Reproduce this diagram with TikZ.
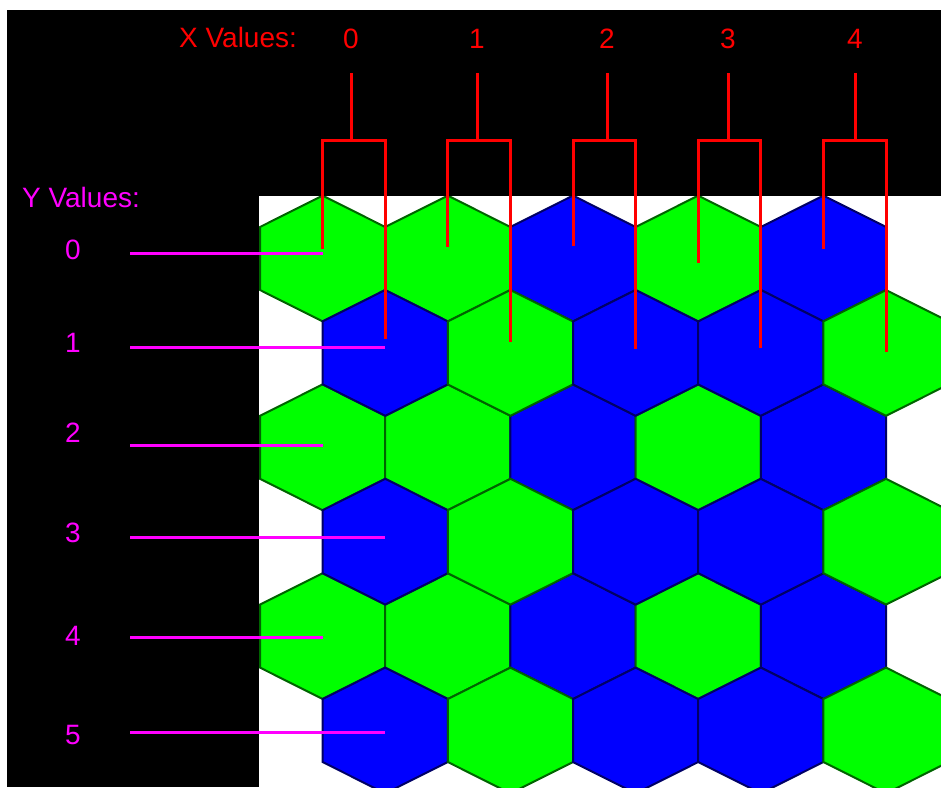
\documentclass[tikz,border=0pt]{standalone}
\usepackage{fontspec}
\setmainfont{Liberation Sans}
\usetikzlibrary{positioning}
\definecolor{hxgreen}{HTML}{00FF00}
\definecolor{hxgreenline}{HTML}{006400}
\definecolor{hxblue}{HTML}{0000FF}
\definecolor{hxblueline}{HTML}{000066}
\definecolor{xred}{HTML}{FF0000}
\definecolor{ymag}{HTML}{FF00FF}

\begin{document}
\begin{tikzpicture}[x=1pt,y=-1pt,
  hexg/.style={fill=hxgreen,draw=hxgreenline,line width=2pt},
  hexb/.style={fill=hxblue,draw=hxblueline,line width=2pt},
  xlab/.style={text=xred,font=\fontsize{28}{30}\selectfont,inner sep=0pt},
  ylab/.style={text=ymag,font=\fontsize{28}{30}\selectfont,inner sep=0pt},
  xbrk/.style={draw=xred,line width=3pt},
  ylink/.style={draw=ymag,line width=3pt}]
  \useasboundingbox (0,0) rectangle (941,787);
  % backdrop: white frame, black panel, white board
  \fill[white] (0,0) rectangle (941,787);
  \fill[black] (7,10) rectangle (941,787);
  \fill[white] (259,196) rectangle (941,787);
  % the hex board, odd rows pushed half a cell right
  \begin{scope}
    \clip (259,196) rectangle (941,787);
    \foreach \r in {0,2,4}{
      \foreach \f [count=\c from 0] in {hexg,hexg,hexb,hexg,hexb}{
        \coordinate (h-\r-\c) at ({322.6+125.2*\c}, {258.5+94.4*\r});
        \draw[\f,shift={(h-\r-\c)}] (0,-62.9) -- (62.6,-31.5) -- (62.6,31.5)
          -- (0,62.9) -- (-62.6,31.5) -- (-62.6,-31.5) -- cycle;
      }
    }
    \foreach \r in {1,3,5}{
      \foreach \f [count=\c from 0] in {hexb,hexg,hexb,hexb,hexg}{
        \coordinate (h-\r-\c) at ({385.2+125.2*\c}, {258.5+94.4*\r});
        \draw[\f,shift={(h-\r-\c)}] (0,-62.9) -- (62.6,-31.5) -- (62.6,31.5)
          -- (0,62.9) -- (-62.6,31.5) -- (-62.6,-31.5) -- cycle;
      }
    }
  \end{scope}
  % x axis: one bracket per column, into rows 0 and 1
  \node[xlab] (xv) at (238,37) {X Values:};
  \foreach \c/\sx/\ya/\yb in {0/351/10/14,1/477/12/11,2/607/13/4,3/728/-4/5,4/855/10/1}{
    \node[xlab] (xl\c) at (\sx,39) {\c};
    \coordinate (bar\c) at (\sx,140);
    \draw[xbrk] ([yshift=-24pt]xl\c.south) -- (bar\c);
    \draw[xbrk] ([yshift=\ya pt]h-0-\c) |- (bar\c) -| ([yshift=\yb pt]h-1-\c);
  }
  % y axis: one line per row, into column 0
  \node[ylab] (yv) at (81,197) {Y Values:};
  \coordinate (ylx) at (130,0);
  \foreach \r/\ly/\dy in {0/250/5,1/343/5,2/433/2,3/533/4,4/636/-1,5/735/-2}{
    \node[ylab] (yl\r) at (73,\ly) {\r};
    \draw[ylink] ([yshift=\dy pt]h-\r-0) -- ([yshift=\dy pt]h-\r-0 -| ylx);
  }
\end{tikzpicture}
\end{document}
